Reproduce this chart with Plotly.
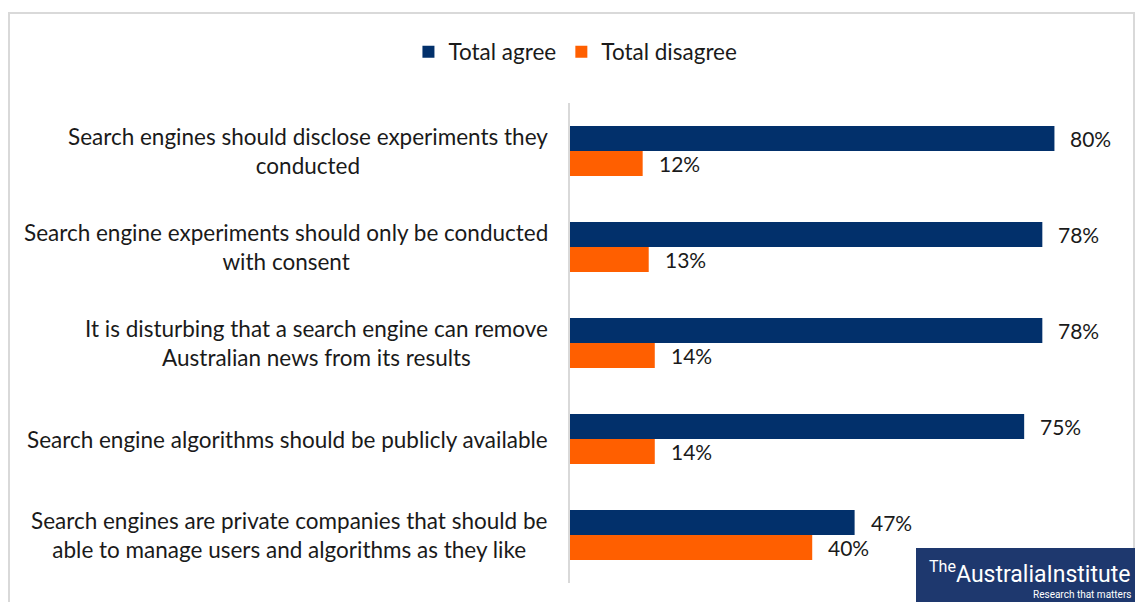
import plotly.graph_objects as go

categories = [
    "Search engines should disclose experiments they<br>conducted",
    "Search engine experiments should only be conducted<br>with consent",
    "It is disturbing that a search engine can remove<br>Australian news from its results",
    "Search engine algorithms should be publicly available",
    "Search engines are private companies that should be<br>able to manage users and algorithms as they like",
]
agree = [80, 78, 78, 75, 47]
disagree = [12, 13, 14, 14, 40]
series_names = ["Total agree", "Total disagree"]

NAVY = "#02306B"
ORANGE = "#FF5F00"
FONT = "Lato"
TXT = "#1a1a1a"

W, H = 1135, 602
ML, MR, MT, MB = 570, 20, 103, 19
pw = W - ML - MR
ph = H - MT - MB

def px(x):
    return (x - ML) / pw

def py(y):
    return (H - MB - y) / ph

fig = go.Figure()
for name, vals, col in [(series_names[0], agree, NAVY), (series_names[1], disagree, ORANGE)]:
    fig.add_trace(go.Bar(
        y=categories, x=vals, name=name, orientation="h",
        marker=dict(color=col, line=dict(width=0)),
        hoverinfo="skip",
    ))

annotations = []
for c in categories:
    annotations.append(dict(
        x=0, xref="paper", y=c, yref="y", text=c, showarrow=False,
        xanchor="right", yanchor="middle", align="center", xshift=-20,
        font=dict(family=FONT, size=22.5, color=TXT),
    ))
for vals, shift in [(agree, 12.5), (disagree, -12.5)]:
    for c, v in zip(categories, vals):
        annotations.append(dict(
            x=v, xref="x", y=c, yref="y", text=f"{v}%", showarrow=False,
            xanchor="left", yanchor="middle", xshift=14, yshift=shift,
            font=dict(family=FONT, size=21, color=TXT),
        ))
# logo
annotations.append(dict(
    x=px(927), y=py(572), xref="paper", yref="paper", xanchor="left", yanchor="middle",
    text="<sup>The</sup>AustraliaInstitute", showarrow=False,
    font=dict(family="Roboto", size=23, color="white"),
))
annotations.append(dict(
    x=px(1133), y=py(594), xref="paper", yref="paper", xanchor="right", yanchor="middle",
    text="Research that matters", showarrow=False,
    font=dict(family="Roboto", size=10, color="white"),
))

shapes = [
    dict(type="rect", xref="paper", yref="paper",
         x0=px(9), x1=px(1134), y0=py(640), y1=py(13),
         line=dict(color="#D9D9D9", width=2), fillcolor="rgba(0,0,0,0)", layer="below"),
    dict(type="rect", xref="paper", yref="paper",
         x0=px(916), x1=px(1140), y0=py(610), y1=py(548),
         line=dict(width=0), fillcolor="#1E386E", layer="above"),
]

fig.update_layout(
    width=W, height=H,
    margin=dict(l=ML, r=MR, t=MT, b=MB),
    paper_bgcolor="white", plot_bgcolor="white",
    barmode="group", bargap=0.48, bargroupgap=0,
    font=dict(family=FONT, size=21, color=TXT),
    xaxis=dict(range=[0, 90], visible=False, showgrid=False, zeroline=False),
    yaxis=dict(autorange="reversed", showticklabels=False, showgrid=False,
               showline=True, linecolor="#D9D9D9", linewidth=2, ticks="",
               zeroline=False),
    legend=dict(orientation="h", xref="container", yref="container",
                x=0.507, y=1 - 52 / H, xanchor="center", yanchor="middle",
                font=dict(family=FONT, size=22.5, color=TXT),
                itemclick=False, itemdoubleclick=False,
                itemwidth=30, tracegroupgap=0),
    annotations=annotations,
    shapes=shapes,
    showlegend=True,
)

fig.write_html("out.html", config={"displayModeBar": False},
               post_script="document.body.style.margin='0';document.body.style.overflow='hidden';")
